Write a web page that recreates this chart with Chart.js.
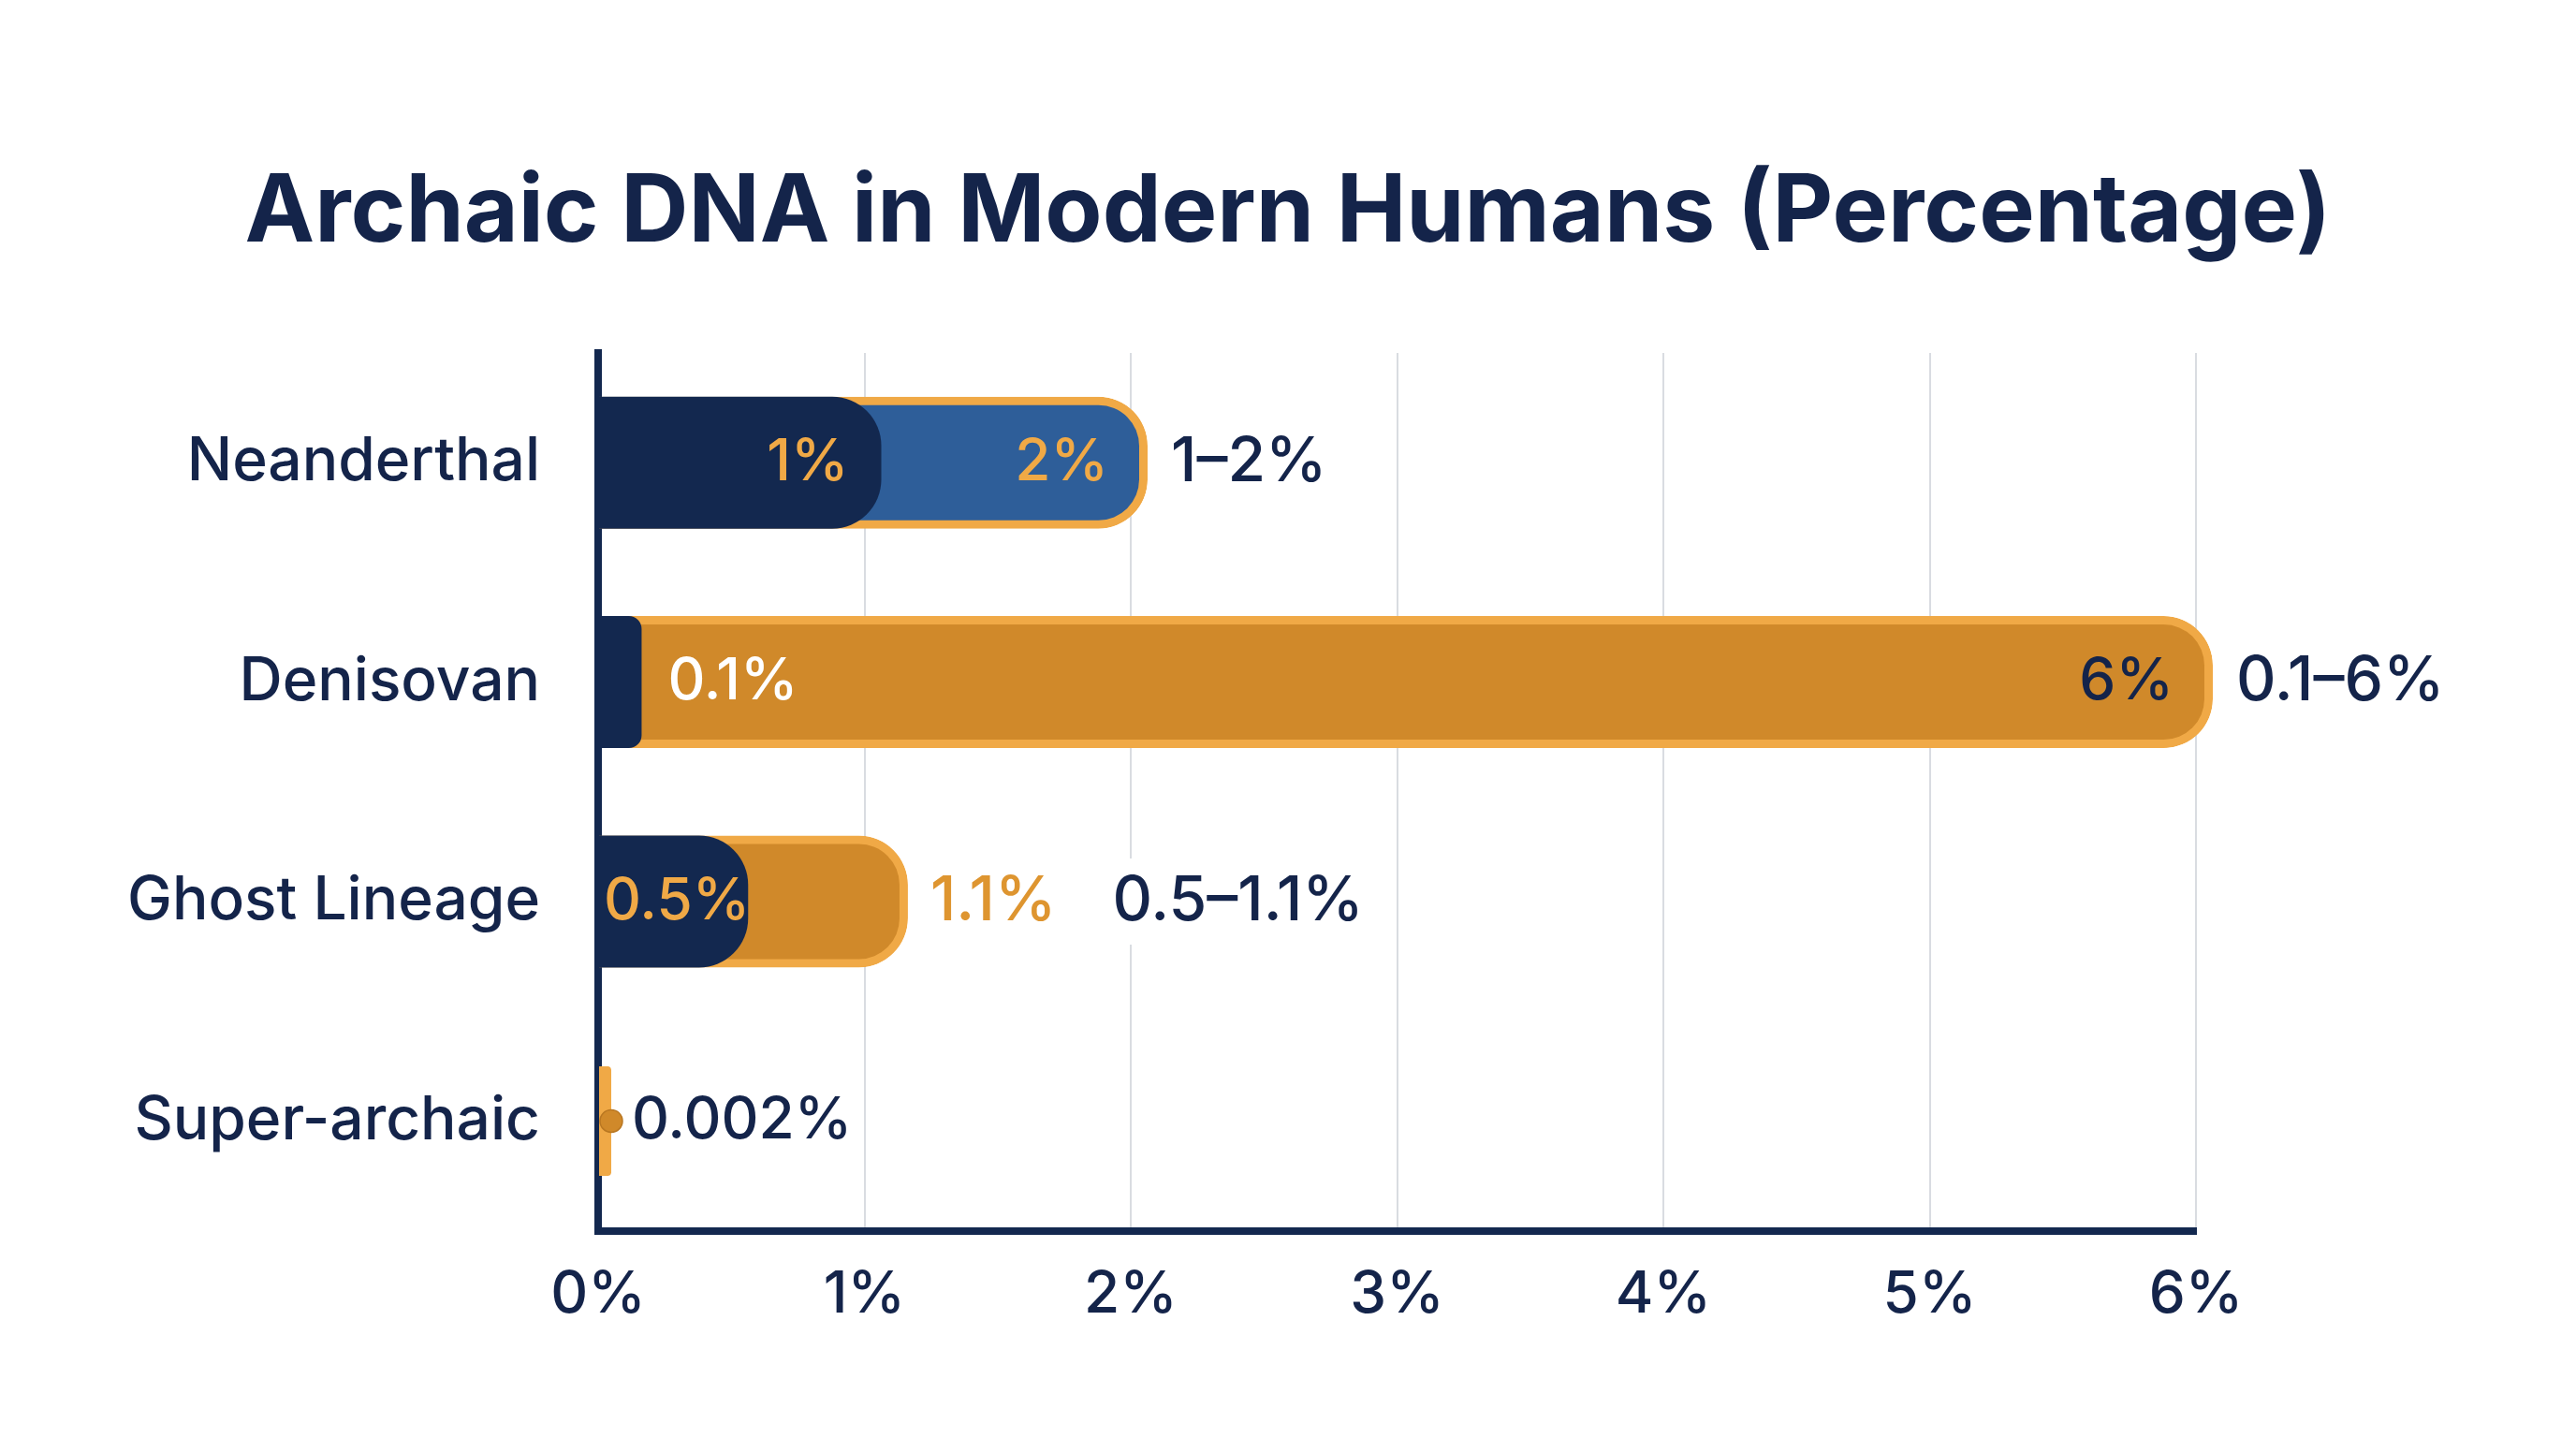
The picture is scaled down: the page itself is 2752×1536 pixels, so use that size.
<!DOCTYPE html>
<html><head><meta charset="utf-8">
<script src="https://cdn.jsdelivr.net/npm/chart.js@4.4.0/dist/chart.umd.min.js"></script>
<style>html,body{margin:0;padding:0;background:#fff;}#wrap{width:2752px;height:1536px;}</style>
</head><body><div id="wrap"><canvas id="c" width="2752" height="1536"></canvas></div>
<script>
// ---- data ----
const categories = ['Neanderthal', 'Denisovan', 'Ghost Lineage', 'Super-archaic'];
const lowValues = [1, 0.1, 0.5, 0.002];
const highValues = [2, 6, 1.1, 0.002];
const lowLabels = ['1%', '0.1%', '0.5%', '0.002%'];
const highLabels = ['2%', '6%', '1.1%', '0.002%'];
const rangeLabels = ['1–2%', '0.1–6%', '0.5–1.1%', ''];
const xTickValues = [0, 1, 2, 3, 4, 5, 6];
const xTickLabels = ['0%', '1%', '2%', '3%', '4%', '5%', '6%'];
const titleText = 'Archaic DNA in Modern Humans (Percentage)';

// ---- style ----
const NAVY = '#13284F', BLUE = '#2E5E99', ORANGE = '#D0892A', ORANGE_LT = '#F0A946',
      ORANGE_TXT = '#DE9530', TEXT = '#14244A', GRID = '#D9DCE1';
const highFill = [BLUE, ORANGE, ORANGE, ORANGE_LT];
const FONT = 'Inter';

const bgPlugin = {
  id: 'bg',
  beforeDraw(chart) {
    const c = chart.ctx; c.save(); c.fillStyle = '#FFFFFF';
    c.fillRect(0, 0, chart.width, chart.height);
    c.fillStyle = TEXT; c.font = '700 100px ' + FONT;
    c.textAlign = 'center'; c.textBaseline = 'alphabetic';
    c.fillText(titleText, chart.width / 2, 258);
    c.restore();
  }
};

const labelPlugin = {
  id: 'barLabels',
  afterDatasetsDraw(chart) {
    const ctx = chart.ctx;
    const lowMeta = chart.getDatasetMeta(0), highMeta = chart.getDatasetMeta(1);
    const left = chart.chartArea.left;
    ctx.save();
    ctx.textBaseline = 'middle';
    const inFont = '500 62px ' + FONT, outFont = '500 66px ' + FONT;
    categories.forEach((c, i) => {
      const lo = lowMeta.data[i], hi = highMeta.data[i];
      const y = lo.y;
      const loEnd = lo.x + (lo.inflateAmount || 0);
      const hiEnd = hi.x + (hi.inflateAmount || 0);
      if (lowValues[i] === highValues[i]) {
        ctx.beginPath(); ctx.arc(hiEnd, y, 12, 0, Math.PI * 2);
        ctx.fillStyle = ORANGE; ctx.fill();
        ctx.lineWidth = 1.5; ctx.strokeStyle = '#B97722'; ctx.stroke();
        ctx.font = inFont;
        ctx.fillStyle = TEXT; ctx.textAlign = 'left';
        ctx.fillText(lowLabels[i], hiEnd + 22, y);
        return;
      }
      // low label
      ctx.font = inFont;
      const wl = ctx.measureText(lowLabels[i]).width;
      let lowRight;
      if (loEnd - left >= wl + 60) {
        ctx.textAlign = 'right'; ctx.fillStyle = ORANGE_LT;
        ctx.fillText(lowLabels[i], loEnd - 35, y); lowRight = loEnd;
      } else if (loEnd - left >= wl - 12) {
        ctx.textAlign = 'left'; ctx.fillStyle = ORANGE_LT;
        ctx.fillText(lowLabels[i], left + 6, y); lowRight = loEnd;
      } else {
        ctx.textAlign = 'left'; ctx.fillStyle = '#FFFFFF';
        ctx.fillText(lowLabels[i], loEnd + 28, y); lowRight = loEnd + 28 + wl;
      }
      // high label
      const wh = ctx.measureText(highLabels[i]).width;
      let nextX;
      if (hiEnd - lowRight >= wh + 100) {
        ctx.textAlign = 'right';
        ctx.fillStyle = highFill[i] === BLUE ? ORANGE_LT : TEXT;
        ctx.fillText(highLabels[i], hiEnd - 42, y);
        nextX = hiEnd + 25;
      } else {
        ctx.font = outFont;
        ctx.textAlign = 'left'; ctx.fillStyle = ORANGE_TXT;
        ctx.fillText(highLabels[i], hiEnd + 24, y);
        nextX = hiEnd + 24 + ctx.measureText(highLabels[i]).width + 60;
      }
      // range label
      ctx.font = outFont;
      const wr = ctx.measureText(rangeLabels[i]).width;
      ctx.fillStyle = '#FFFFFF';
      ctx.fillRect(nextX - 8, y - 46, wr + 16, 92);
      ctx.textAlign = 'left'; ctx.fillStyle = TEXT;
      ctx.fillText(rangeLabels[i], nextX, y);
    });
    ctx.restore();
  }
};

const tiny = (i) => lowValues[i] === highValues[i];
const radius = { topLeft: 0, bottomLeft: 0, topRight: 200, bottomRight: 200 };
const clipOpt = { left: 0, top: false, right: false, bottom: false };

new Chart(document.getElementById('c'), {
  type: 'bar',
  data: {
    labels: categories,
    datasets: [
      {
        label: 'Low estimate', data: lowValues, backgroundColor: NAVY,
        borderWidth: 0, borderRadius: radius, borderSkipped: 'start',
        barThickness: 105, grouped: false,
        inflateAmount: (ctx) => tiny(ctx.dataIndex) ? 0 : 18,
        clip: clipOpt
      },
      {
        label: 'High estimate', data: highValues, backgroundColor: highFill,
        borderColor: ORANGE_LT, borderWidth: 9, borderRadius: radius, borderSkipped: 'start',
        barThickness: 105, grouped: false, minBarLength: 8,
        inflateAmount: (ctx) => tiny(ctx.dataIndex) ? 6 : 18,
        clip: clipOpt
      }
    ]
  },
  options: {
    indexAxis: 'y',
    responsive: false,
    devicePixelRatio: 1,
    animation: false,
    layout: { padding: { left: 0, right: 406, top: 377, bottom: 83 } },
    plugins: {
      legend: { display: false },
      tooltip: { enabled: false },
      title: { display: false }
    },
    scales: {
      x: {
        type: 'linear', min: xTickValues[0], max: xTickValues[xTickValues.length - 1],
        afterBuildTicks(scale) { scale.ticks = xTickValues.map(v => ({ value: v })); },
        ticks: {
          stepSize: 1, color: TEXT, padding: 32,
          font: { family: FONT, size: 62, weight: '500', lineHeight: 1.2 },
          callback: (v) => xTickLabels[xTickValues.indexOf(v)]
        },
        grid: { color: GRID, lineWidth: 2, drawTicks: false },
        border: { color: NAVY, width: 8 }
      },
      y: {
        afterFit(scale) { scale.width = 639; },
        ticks: {
          color: TEXT, padding: 62,
          font: { family: FONT, size: 64, weight: '500', lineHeight: 1.2 }
        },
        grid: { display: false, drawTicks: false },
        border: { color: NAVY, width: 8 }
      }
    }
  },
  plugins: [bgPlugin, labelPlugin]
});
</script></body></html>
